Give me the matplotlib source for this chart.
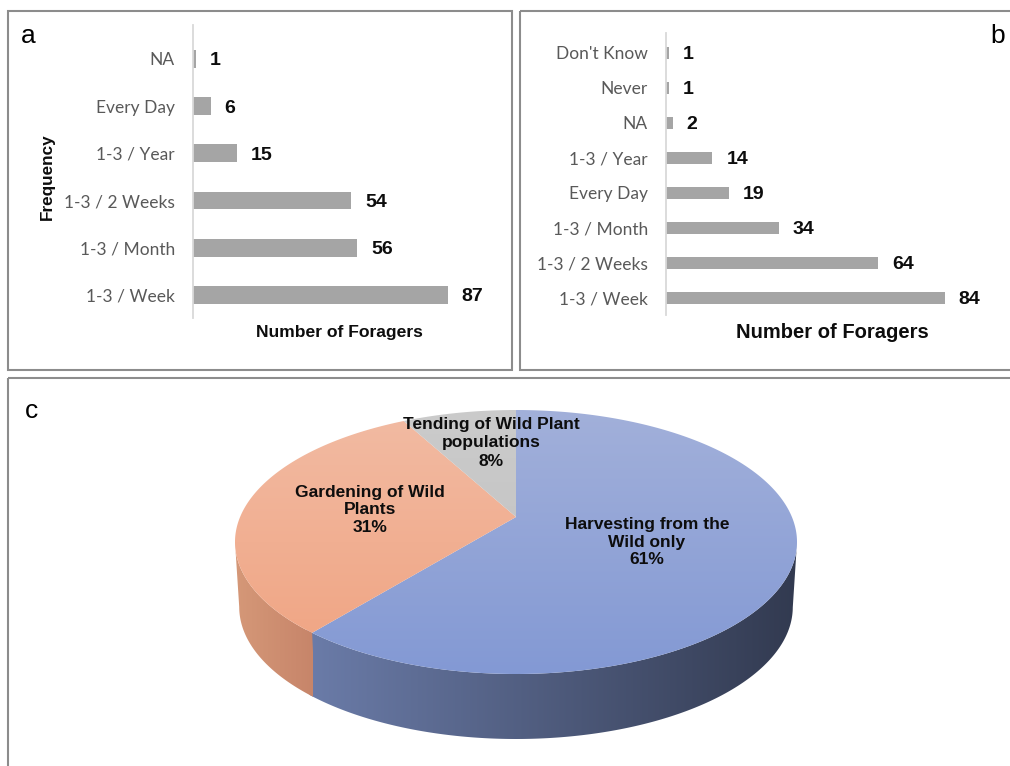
import matplotlib
matplotlib.use("Agg")
import matplotlib.pyplot as plt
import numpy as np
from matplotlib.patches import Polygon, Rectangle
from matplotlib.colors import LinearSegmentedColormap

W, H = 1010, 766

# panel a - how often
freq_a = ["NA", "Every Day", "1-3 / Year", "1-3 / 2 Weeks", "1-3 / Month", "1-3 / Week"]
count_a = [1, 6, 15, 54, 56, 87]

# panel b
freq_b = ["Don't Know", "Never", "NA", "1-3 / Year", "Every Day",
          "1-3 / Month", "1-3 / 2 Weeks", "1-3 / Week"]
count_b = [1, 1, 2, 14, 19, 34, 64, 84]

# panel c - pie
practice = ["Harvesting from the\nWild only", "Gardening of Wild\nPlants",
            "Tending of Wild Plant\npopulations"]
share = [61, 31, 8]

fig = plt.figure(figsize=(W / 100, H / 100), dpi=100)


def px_axes(l, t, r, b):
    return fig.add_axes([l / W, 1 - b / H, (r - l) / W, (b - t) / H])


ov = px_axes(0, 0, W, H)
ov.axis("off")

# panel frames
frame = dict(fill=False, edgecolor="#8c8c8c", lw=1.5)
ov.add_patch(Rectangle((8, 11), 504, 359, **frame))
ov.add_patch(Rectangle((520, 11), 520, 359, **frame))
ov.add_patch(Rectangle((8, 378), 1040, 420, **frame))


def bars(ax, cats, vals, height, ylim):
    y = np.arange(len(cats))
    ax.barh(y, vals, height=height, color="#a5a5a5")
    ax.set_yticks(y, cats)
    ax.set_ylim(*ylim)
    ax.set_xlim(0, 95)
    ax.set_xticks([])
    for s in ["top", "right", "bottom"]:
        ax.spines[s].set_visible(False)
    ax.spines["left"].set_color("#d9d9d9")
    ax.spines["left"].set_linewidth(1.3)
    ax.tick_params(axis="y", length=0, pad=13, labelsize=12.5, labelcolor="#595959")
    for lab in ax.get_yticklabels():
        lab.set_fontfamily("Lato")
    for yi, v in zip(y, vals):
        ax.annotate(str(v), (v, yi), xytext=(10, 0), textcoords="offset points",
                    va="center_baseline", ha="left", fontsize=14, fontweight="bold",
                    family="Liberation Sans", color="#0d0d0d")
    ax.patch.set_visible(False)


ax_a = px_axes(193, 25, 193 + 95 * 2.93, 318)
bars(ax_a, freq_a, count_a, 0.38, (5.49, -0.72))
ax_b = px_axes(666, 33, 666 + 95 * 3.32, 315)
bars(ax_b, freq_b, count_b, 0.35, (7.49, -0.57))

bold = dict(family="Liberation Sans", fontweight="bold", color="#0d0d0d")
ov.text(339, 333, "Number of Foragers", fontsize=12.6, ha="center", va="center", **bold)
ov.text(832, 332, "Number of Foragers", fontsize=14.5, ha="center", va="center", **bold)
ov.text(47, 177, "Frequency", fontsize=12.3, rotation=90, ha="center", va="center", **bold)

letter = dict(family="Liberation Sans", fontsize=19, color="black", va="baseline", ha="left")
ov.text(21, 43, "a", **letter)
ov.text(990, 43, "b", **letter)
ov.text(25, 418, "c", **letter)

# ---- 3D-looking pie ----
cx, cy, rx, ry = 516, 542, 281, 132
apx, apy = 516, 517
depth = 65
k = 0.47


def rim(theta_deg):
    t = np.radians(theta_deg)
    dx, dy = np.sin(t), -k * np.cos(t)
    px, py = apx - cx, apy - cy
    A = (dx / rx) ** 2 + (dy / ry) ** 2
    B = 2 * (px * dx / rx ** 2 + py * dy / ry ** 2)
    C = (px / rx) ** 2 + (py / ry) ** 2 - 1
    s = (-B + np.sqrt(B * B - 4 * A * C)) / (2 * A)
    return apx + s * dx, apy + s * dy


def grad_fill(xy, c0, c1, extent, vertical):
    patch = Polygon(xy, closed=True, facecolor="none", edgecolor="none")
    ov.add_patch(patch)
    cmap = LinearSegmentedColormap.from_list("g", [c0, c1])
    g = np.linspace(0, 1, 256)
    img = g[:, None] if vertical else g[None, :]
    im = ov.imshow(img, cmap=cmap, extent=extent, aspect="auto",
                   origin="upper", interpolation="bilinear")
    im.set_clip_path(patch)


top_cols = [("#a2b0da", "#8399d4"), ("#f2bba3", "#f0a381"), ("#cbcbcb", "#c0c0c0")]
side_cols = [("#6b7ca9", "#323a50"), ("#d59878", "#c7856a")]

edges = np.concatenate([[0], np.cumsum(share)]) / sum(share) * 360
for i in range(len(share)):
    # side (front half of the rim only); a little overlap hides the seam
    if i < len(side_cols):
        xs, ys = rim(np.linspace(edges[i], edges[i + 1] + 1.5, 400))
        m = ys >= cy - 0.5
        if m.sum() > 2:
            sx, sy = xs[m], ys[m]
            bx = cx + (sx - cx) * 0.985
            by = sy + depth
            side = np.column_stack([np.concatenate([sx, bx[::-1]]),
                                    np.concatenate([sy, by[::-1]])])
            grad_fill(side, side_cols[i][0], side_cols[i][1],
                      (sx.min(), sx.max(), cy + ry + depth, cy - ry), vertical=False)
    xs, ys = rim(np.linspace(edges[i], edges[i + 1], 400))
    top = np.column_stack([np.concatenate([[apx], xs]), np.concatenate([[apy], ys])])
    grad_fill(top, top_cols[i][0], top_cols[i][1],
              (cx - rx, cx + rx, cy + ry, cy - ry), vertical=True)

label_xy = [(647, 542), (370, 510), (491, 443)]
for txt, pct, (tx, ty) in zip(practice, share, label_xy):
    ov.text(tx, ty, f"{txt}\n{pct}%", fontsize=12.5, ha="center", va="center",
            linespacing=1.25, **bold)

ov.set_xlim(0, W)
ov.set_ylim(H, 0)

fig.savefig("out.png", dpi=100, facecolor="white")
